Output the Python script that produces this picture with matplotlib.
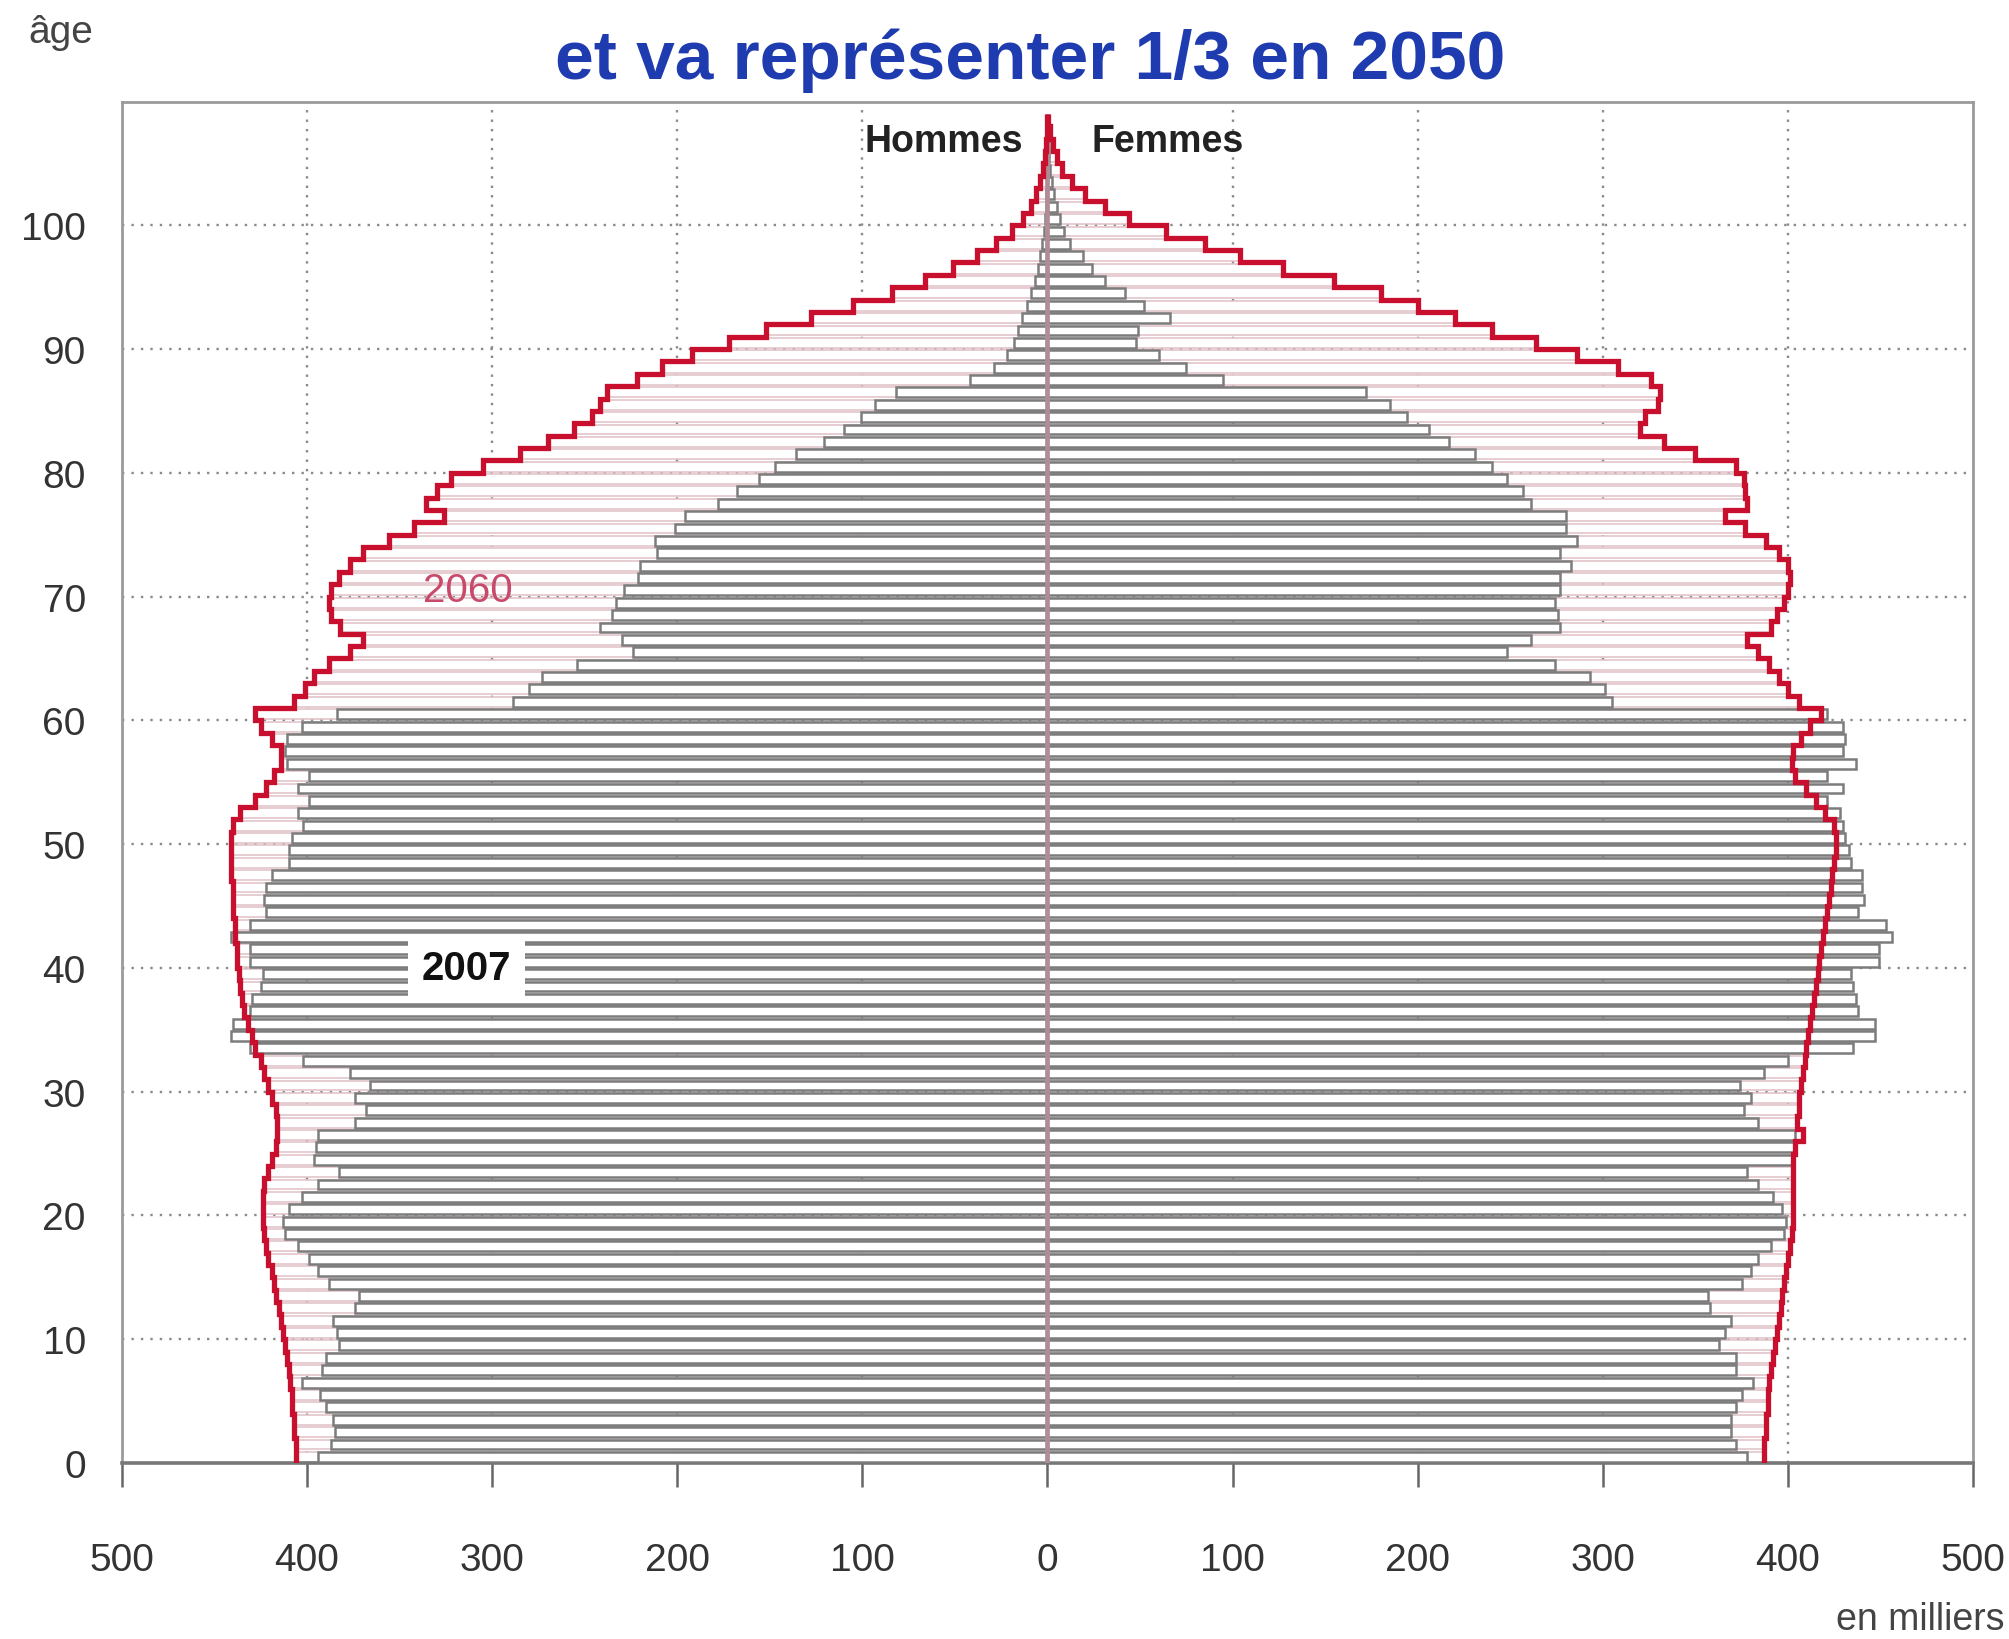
import numpy as np
import matplotlib
matplotlib.use("Agg")
import matplotlib.pyplot as plt
from matplotlib import font_manager

# Pyramide des âges, France : 2007 (barres grises) et projection 2060 (contour rouge)
# valeurs en milliers, une valeur par âge à partir de 0 an

hommes_2007 = [394, 387, 385, 386, 390, 393, 403, 392, 390, 383,
               384, 386, 374, 372, 388, 394, 399, 405, 412, 413,
               410, 403, 394, 383, 396, 395, 394, 374, 368, 374,
               366, 377, 402, 431, 441, 440, 431, 430, 425, 424,
               431, 431, 441, 431, 422, 423, 422, 419, 410, 410,
               408, 402, 405, 399, 405, 399, 411, 412, 411, 403,
               384, 289, 280, 273, 254, 224, 230, 242, 235, 233,
               229, 221, 220, 211, 212, 201, 196, 178, 168, 156,
               147, 136, 121, 110, 101, 93, 82, 42, 29, 22,
               18, 16, 14, 11, 9, 7, 5, 4, 3, 2,
               1.5, 1, 0.7, 0.5, 0.3, 0.2, 0.1, 0.1]

femmes_2007 = [378, 372, 369, 369, 372, 375, 381, 372, 372, 363,
               366, 369, 358, 357, 375, 380, 384, 391, 398, 399,
               397, 392, 384, 378, 403, 404, 404, 384, 376, 380,
               374, 387, 400, 435, 447, 447, 438, 437, 435, 434,
               449, 449, 456, 453, 438, 441, 440, 440, 434, 433,
               431, 430, 428, 421, 430, 421, 437, 430, 431, 430,
               421, 305, 301, 293, 274, 248, 261, 277, 276, 274,
               277, 277, 283, 277, 286, 280, 280, 261, 257, 248,
               240, 231, 217, 206, 194, 185, 172, 95, 75, 60,
               48, 49, 66, 52, 42, 31, 24, 19, 12, 9,
               7, 5, 3.5, 2.5, 1.5, 1, 0.6, 0.3]

hommes_2060 = [406, 406, 407, 407, 408, 408, 409, 410, 411, 412,
               413, 414, 415, 417, 418, 419, 421, 422, 423, 424,
               424, 424, 423, 421, 419, 417, 416, 416, 417, 419,
               421, 423, 425, 428, 430, 432, 434, 435, 436, 437,
               438, 438, 439, 439, 440, 440, 440, 441, 441, 441,
               441, 440, 436, 428, 422, 418, 414, 414, 419, 425,
               428, 407, 401, 396, 388, 377, 370, 382, 387, 388,
               387, 383, 377, 370, 356, 342, 326, 336, 330, 322,
               305, 285, 270, 256, 246, 242, 238, 222, 208, 192,
               172, 152, 128, 105, 84, 66, 51, 38, 28, 19,
               13, 9, 6, 4, 2.5, 1.5, 0.8, 0.4, 0.2]

femmes_2060 = [387, 387, 388, 388, 389, 389, 390, 391, 392, 393,
               394, 395, 396, 397, 398, 399, 400, 401, 402, 403,
               403, 403, 403, 403, 403, 404, 408, 405, 406, 406,
               407, 408, 409, 410, 411, 412, 413, 414, 415, 416,
               417, 418, 419, 420, 421, 422, 423, 424, 425, 426,
               426, 425, 420, 415, 410, 404, 402, 403, 407, 412,
               418, 406, 400, 395, 390, 384, 378, 391, 394, 398,
               400, 401, 400, 395, 388, 377, 366, 378, 377, 376,
               372, 350, 333, 320, 323, 330, 331, 326, 308, 286,
               264, 240, 220, 200, 180, 155, 127, 104, 85, 64,
               44, 31, 20, 13, 8, 5, 3, 1.5, 0.5]

x_ticks = [-500, -400, -300, -200, -100, 0, 100, 200, 300, 400, 500]
y_ticks = [0, 10, 20, 30, 40, 50, 60, 70, 80, 90, 100]

# police étroite si disponible
noms = {f.name for f in font_manager.fontManager.ttflist}
etroite = 'Liberation Sans Narrow' if 'Liberation Sans Narrow' in noms else 'Liberation Sans'
plt.rcParams['font.family'] = [etroite, 'DejaVu Sans']

gris = '#333333'
rouge = '#c8102e'

fig = plt.figure(figsize=(20.09, 16.40), dpi=100)
ax = fig.add_axes([0.0607, 0.1073, 0.9214, 0.8302])

a07 = np.arange(len(hommes_2007))
a60 = np.arange(len(hommes_2060))

# grille pointillée derrière les barres
for x in [-400, -300, -200, -100, 100, 200, 300, 400]:
    ax.axvline(x, color='#8a8a8a', ls=(0, (1, 3)), lw=1.7, zorder=0)
for y in y_ticks[1:]:
    ax.axhline(y, color='#8a8a8a', ls=(0, (1, 3)), lw=1.7, zorder=0)

# 2060 : barres claires
ax.barh(a60 + 0.5, -np.array(hommes_2060), height=0.8, color='white',
        edgecolor='#dfc0c6', lw=1.1, zorder=2)
ax.barh(a60 + 0.5, femmes_2060, height=0.8, color='white',
        edgecolor='#dfc0c6', lw=1.1, zorder=2)

# 2007 : barres grises
ax.barh(a07 + 0.5, -np.array(hommes_2007), height=0.8, color='white',
        edgecolor='#7c7c7c', lw=1.8, zorder=3)
ax.barh(a07 + 0.5, femmes_2007, height=0.8, color='white',
        edgecolor='#7c7c7c', lw=1.8, zorder=3)

# axe central
ax.plot([0, 0], [0, 108.6], color='#b08c96', lw=3.4, zorder=4)

# contour 2060 en escalier
bords = np.arange(len(hommes_2060) + 1)
ax.stairs(-np.array(hommes_2060), bords, orientation='horizontal', baseline=None,
          color=rouge, lw=3.8, zorder=5)
ax.stairs(np.array(femmes_2060), bords, orientation='horizontal', baseline=None,
          color=rouge, lw=3.8, zorder=5)

ax.set_xlim(-500, 500)
ax.set_ylim(0, 110)
ax.set_xticks(x_ticks)
ax.set_xticklabels([str(abs(v)) for v in x_ticks])
ax.set_yticks(y_ticks)
ax.tick_params(axis='x', length=17, width=1.8, color='#666666', pad=40,
               labelsize=28, labelcolor=gris)
ax.tick_params(axis='y', length=0, pad=26, labelsize=28, labelcolor=gris)
for s in ax.spines.values():
    s.set_color('#9a9a9a')
    s.set_linewidth(2)
ax.spines['bottom'].set_color('#777777')
ax.spines['bottom'].set_linewidth(2.6)

ax.text(-13, 106.8, 'Hommes', ha='right', va='center', fontsize=27,
        weight='bold', color='#222222', zorder=7)
ax.text(24, 106.8, 'Femmes', ha='left', va='center', fontsize=27,
        weight='bold', color='#222222', zorder=7)
ax.text(-313, 70.5, '2060', ha='center', va='center', fontsize=29,
        color='#c84a6b', zorder=7)
ax.text(-314, 40, '2007', ha='center', va='center', fontsize=29,
        weight='bold', color='#111111', zorder=7,
        bbox=dict(facecolor='white', edgecolor='none', pad=10))

fig.text(0.5127, 0.9518, 'et va représenter 1/3 en 2050', ha='center',
         va='baseline', fontsize=50, weight='bold', color='#1f3bb0')
fig.text(0.014, 0.974, 'âge', ha='left', va='baseline', fontsize=28, color='#444444')
fig.text(0.998, 0.006, 'en milliers', ha='right', va='baseline', fontsize=27,
         color='#444444')

fig.savefig('out.png', dpi=100)
